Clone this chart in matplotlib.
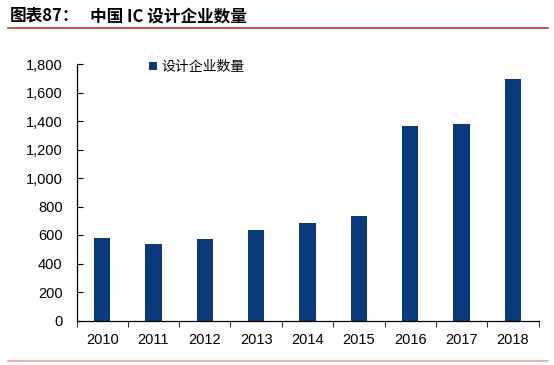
import matplotlib.pyplot as plt
from matplotlib.ticker import FuncFormatter

plt.rcParams['font.family'] = ['Liberation Sans', 'Noto Sans CJK SC', 'DejaVu Sans']

years = ['2010', '2011', '2012', '2013', '2014', '2015', '2016', '2017', '2018']
counts = [582, 534, 569, 632, 681, 736, 1362, 1380, 1698]
series_name = '设计企业数量'
y_ticks = [0, 200, 400, 600, 800, 1000, 1200, 1400, 1600, 1800]

bar_color = '#083a7c'
cjk = ['Noto Sans CJK SC', 'DejaVu Sans']

fig = plt.figure(figsize=(5.54, 3.65), dpi=100)
ax = fig.add_axes([76.5 / 554, 1 - 320.5 / 365, 462 / 554, 256.5 / 365])

bars = ax.bar(range(len(years)), counts, width=0.32, color=bar_color, label=series_name)
ax.set_xlim(-0.5, len(years) - 0.5)
ax.set_ylim(0, 1800)
ax.set_yticks(y_ticks)
ax.yaxis.set_major_formatter(FuncFormatter(lambda v, p: f'{int(v):,}'))
ax.set_xticks(range(len(years)))
ax.set_xticklabels(years)
ax.set_xticks([i - 0.5 for i in range(len(years) + 1)], minor=True)

for s in ['top', 'right']:
    ax.spines[s].set_visible(False)
for s in ['left', 'bottom']:
    ax.spines[s].set_color('black')
    ax.spines[s].set_linewidth(0.9)

ax.tick_params(axis='y', direction='in', length=4, labelsize=10.5, pad=10)
ax.tick_params(axis='x', which='major', length=0, labelsize=10.5, pad=9)
ax.tick_params(axis='x', which='minor', direction='out', length=4.5)

leg = ax.legend(loc='upper left', bbox_to_anchor=(0.13, 1.065), frameon=False,
                handlelength=0.55, handleheight=0.55, handletextpad=0.35,
                prop={'family': cjk, 'size': 10})

# title and decorative rules
fig.text(10 / 554, 1 - 16 / 365, '图表87：', fontsize=12, fontweight='bold', va='center', family=cjk)
fig.text(90 / 554, 1 - 16 / 365, '中国 IC 设计企业数量', fontsize=12, fontweight='bold', va='center', family=cjk)
fig.add_artist(plt.Line2D([8 / 554, 548 / 554], [1 - 28 / 365] * 2, color='#c0392b', lw=1.2))
fig.add_artist(plt.Line2D([8 / 554, 548 / 554], [1 - 361 / 365] * 2, color='#eaa0a0', lw=1.2))

plt.savefig('out.png', dpi=100)
